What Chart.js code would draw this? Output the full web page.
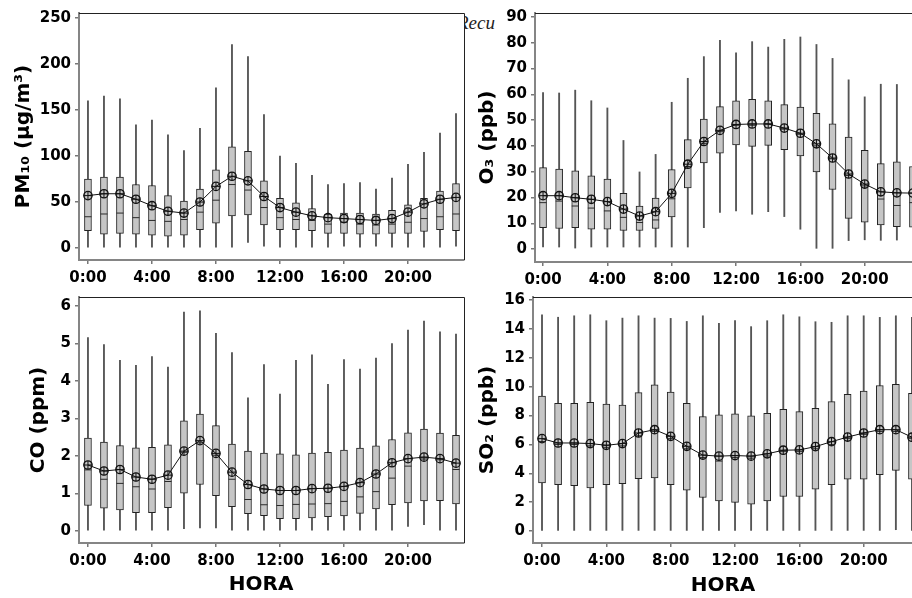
<!DOCTYPE html>
<html>
<head>
<meta charset="utf-8">
<script src="https://cdn.jsdelivr.net/npm/chart.js@4.4.0/dist/chart.umd.min.js"></script>
<style>
body{margin:0;background:#fff;width:912px;height:598px;overflow:hidden;position:relative}
.panel{position:absolute}
#recu{position:absolute;left:464px;top:10px;width:48px;height:30px;overflow:hidden}
#recu span{position:absolute;left:-7px;top:2px;font:italic 19px "Liberation Serif",serif;color:#222}
</style>
</head>
<body>
<div id="recu"><span>Recu</span></div>
<div class="panel" style="left:0;top:0"><canvas id="pm10" width="470" height="300"></canvas></div>
<div class="panel" style="left:455px;top:0"><canvas id="o3" width="480" height="300"></canvas></div>
<div class="panel" style="left:0;top:284px"><canvas id="co" width="470" height="314"></canvas></div>
<div class="panel" style="left:455px;top:284px"><canvas id="so2" width="480" height="314"></canvas></div>
<script>
const hours = [0,1,2,3,4,5,6,7,8,9,10,11,12,13,14,15,16,17,18,19,20,21,22,23]
const hourTicks = [0,4,8,12,16,20]

// PM10 (ug/m3)
const pm10Ticks = [0,50,100,150,200,250]
const pm10Lo = [1,1,1,1,1,1,1,1,1,1,6,2,1,1,1,1,2,1,2,1,1,1,1,2]
const pm10Q1 = [19,15,16,15,14,13,14,20,27,35,36,25,20,20,19,16,16,15,15,16,16,18,20,19]
const pm10Med = [34,37,38,33,30,29,31,39,52,69,63,44,33,31,30,26,28,26,25,26,28,32,34,37]
const pm10Q3 = [75,77,77,69,68,57,51,64,85,110,105,73,54,49,43,37,38,38,37,41,47,54,62,70]
const pm10Hi = [160,165,162,134,139,123,106,130,174,221,208,145,100,92,79,69,70,71,64,76,91,104,125,146]
const pm10Mean = [57,59,59,53,46,40,38,50,67,78,73,56,44,39,35,33,32,31,30,32,39,48,53,55]

// O3 (ppb)
const o3Ticks = [0,10,20,30,40,50,60,70,80,90]
const o3Lo = [0.8,0.8,0.4,0.8,0.8,0.8,0.8,0.8,0.8,0.8,8.3,14.2,14.8,13.5,14.5,12.6,7.7,0.3,0.3,3.3,3.6,3.4,3.5,3.5]
const o3Q1 = [8.3,8,8.3,7.7,7.7,7.2,7.2,8,12.5,23.7,33.4,37.2,40.4,39.8,40.2,38.5,36.1,29.9,23.1,11.9,10.4,9.4,8.7,8.5]
const o3Med = [18,18.6,16.7,15.9,14.8,12.3,10.3,11.3,19.5,32,41,45.5,48,48,48.5,46.5,44.5,40,35,28.5,24.5,19.4,16.9,18]
const o3Q3 = [31.6,31,30.3,28.4,27.1,21.6,16.7,19.8,30.8,42.4,50.4,55.2,57.5,58,57.5,56,55,52.6,48.5,43.4,38.3,33.1,33.8,32]
const o3Hi = [60.7,60.5,61.6,57.5,54.7,42.1,29.9,36.7,56.9,66.2,74.6,80.9,76.1,80.4,78.3,81.3,82.2,79.3,73.9,65.6,59,63.9,63.8,62]
const o3Mean = [20.7,20.7,19.9,19.3,18.4,15.5,12.8,14.5,21.6,32.9,41.7,46,48.3,48.5,48.5,46.9,44.9,40.8,35.3,29.1,25.2,22.2,21.8,21.7]

// CO (ppm)
const coTicks = [0,1,2,3,4,5,6]
const coLo = [0.02,0,0,0,0,0,0.06,0.08,0.08,0,0,0,0,0,0,0,0,0,0,0,0.12,0.17,0,0]
const coQ1 = [0.68,0.61,0.56,0.49,0.49,0.62,1.01,1.24,0.94,0.65,0.46,0.41,0.33,0.33,0.35,0.38,0.4,0.47,0.59,0.7,0.75,0.8,0.81,0.72]
const coMed = [1.63,1.38,1.27,1.18,1.12,1.32,2.1,2.35,2.02,1.38,0.84,0.7,0.68,0.71,0.72,0.73,0.79,0.91,1.05,1.41,1.73,1.92,1.9,1.64]
const coQ3 = [2.48,2.37,2.28,2.22,2.23,2.3,2.94,3.12,2.81,2.32,2.13,2.08,2.06,2.03,2.08,2.1,2.16,2.21,2.27,2.44,2.62,2.72,2.61,2.55]
const coHi = [5.16,4.97,4.55,4.42,4.65,4.37,5.84,5.87,5.27,4.76,3.55,4.44,3.65,4.55,4.7,3.91,4.57,4.32,4.61,5.0,5.36,5.6,5.31,5.25]
const coMean = [1.76,1.6,1.64,1.44,1.38,1.49,2.13,2.41,2.07,1.57,1.24,1.12,1.08,1.08,1.13,1.14,1.19,1.29,1.52,1.82,1.93,1.97,1.93,1.81]

// SO2 (ppb)
const so2Ticks = [0,2,4,6,8,10,12,14,16]
const so2Lo = [0,0,0,0,0,0,0,0,0,0,0,0,0,0,0,0,0,0,0,0,0,0,0.1,0]
const so2Q1 = [3.34,3.22,3.15,2.99,3.22,3.29,3.63,3.68,3.22,2.83,2.33,2.1,1.99,1.87,2.1,2.4,2.4,2.9,3.22,3.59,3.59,3.91,4.21,3.59]
const so2Med = [6.2,6.0,6.0,5.9,5.8,5.9,6.6,6.9,6.4,5.7,5.1,4.85,5.1,5.05,5.2,5.5,5.5,5.7,6.0,6.4,6.7,6.9,6.9,6.4]
const so2Q3 = [9.35,8.85,8.85,8.91,8.8,8.73,9.58,10.13,9.62,8.85,7.93,8.05,8.11,7.98,8.16,8.43,8.27,8.5,8.96,9.46,9.69,10.08,10.15,9.53]
const so2Hi = [14.97,14.8,14.9,14.97,14.56,14.74,14.9,14.74,14.72,14.51,14.9,14.38,14.56,14.15,14.56,14.97,14.83,14.49,14.45,14.9,14.9,14.79,14.9,14.8]
const so2Mean = [6.4,6.1,6.1,6.06,5.94,6.06,6.79,7.02,6.56,5.87,5.26,5.19,5.23,5.19,5.35,5.6,5.62,5.85,6.19,6.51,6.79,7.02,7.02,6.5]

const bold = size => ({family:'"DejaVu Sans", Verdana, sans-serif', weight:'bold', size:size})

// top and right edges of the plot box
const frame = {
  id:'frame',
  afterDraw(chart){
    const {ctx, chartArea:a} = chart
    ctx.save()
    ctx.strokeStyle = '#222'
    ctx.lineWidth = 1
    ctx.beginPath()
    ctx.moveTo(a.left, a.top + 0.5)
    ctx.lineTo(a.right + 0.5, a.top + 0.5)
    ctx.lineTo(a.right + 0.5, a.bottom)
    ctx.stroke()
    ctx.restore()
  }
}

function pts(vals){
  return hours.map((h,i) => ({x:h, y:vals[i]}))
}

function ranges(lo, hi){
  return hours.map((h,i) => ({x:h, y:[lo[i], hi[i]]}))
}

function boxPanel(id, s, o){
  return new Chart(document.getElementById(id), {
    type:'bar',
    data:{
      datasets:[
        {type:'bar', data:ranges(s.lo, s.hi), backgroundColor:'#555', barThickness:1.2, grouped:false, order:4},
        {type:'bar', data:ranges(s.q1, s.q3), backgroundColor:'#c6c6c6', borderColor:'#222', borderWidth:1,
          borderSkipped:false, barThickness:7, grouped:false, order:3},
        {type:'scatter', data:pts(s.med), pointStyle:'line', pointRadius:3.5, borderColor:'#2a2a2a', borderWidth:1, order:2},
        {type:'line', data:pts(s.mean), borderColor:'#111', borderWidth:1, tension:0,
          pointStyle:'circle', pointRadius:4.2, pointBackgroundColor:'rgba(0,0,0,0)',
          pointBorderColor:'#111', pointBorderWidth:1.3, order:1},
        {type:'scatter', data:pts(s.mean), pointStyle:'cross', pointRadius:4.2, borderColor:'#111', borderWidth:1, order:0}
      ]
    },
    options:{
      responsive:false,
      animation:false,
      events:[],
      layout:{padding:{left:0, top:o.top, right:o.right, bottom:0}},
      plugins:{legend:{display:false}, tooltip:{enabled:false}},
      scales:{
        x:{
          type:'linear', min:o.xmin, max:o.xmax, offset:false,
          afterBuildTicks: sc => { sc.ticks = hourTicks.map(v => ({value:v})) },
          afterFit: sc => { sc.height = o.xh },
          ticks:{callback: v => v + ':00', font:bold(15), color:'#000', padding:5, maxRotation:0, autoSkip:false},
          grid:{offset:false, drawOnChartArea:false, tickLength:4, color:'#777', lineWidth:1.5},
          border:{color:'#858585', width:2},
          title:{display:!!o.hora, text:o.hora, font:bold(20), color:'#000', padding:{top:0, bottom:o.hpad || 0}}
        },
        y:{
          min:o.ymin, max:o.ymax,
          afterBuildTicks: sc => { sc.ticks = o.ticks.map(v => ({value:v})) },
          afterFit: sc => { sc.width = o.yw },
          ticks:{font:bold(15), color:'#000', padding:4},
          grid:{drawOnChartArea:false, tickLength:4, color:'#777', lineWidth:1.5},
          border:{color:'#858585', width:2},
          title:{display:true, text:o.title, font:bold(20), color:'#000', padding:{top:o.tpad, bottom:0}}
        }
      }
    },
    plugins:[frame]
  })
}

boxPanel('pm10', {lo:pm10Lo, q1:pm10Q1, med:pm10Med, q3:pm10Q3, hi:pm10Hi, mean:pm10Mean},
  {ticks:pm10Ticks, ymin:-13, ymax:255.4, xmin:-0.56, xmax:23.5, top:12, right:6, yw:79, xh:40, tpad:12,
   title:'PM\u2081\u2080 (\u00b5g/m\u00b3)'})

boxPanel('o3', {lo:o3Lo, q1:o3Q1, med:o3Med, q3:o3Q3, hi:o3Hi, mean:o3Mean},
  {ticks:o3Ticks, ymin:-5, ymax:91.5, xmin:-0.5, xmax:23.5, top:12, right:14, yw:80, xh:38, tpad:21,
   title:'O\u2083 (ppb)'})

boxPanel('co', {lo:coLo, q1:coQ1, med:coMed, q3:coQ3, hi:coHi, mean:coMean},
  {ticks:coTicks, ymin:-0.32, ymax:6.24, xmin:-0.56, xmax:23.5, top:10, right:6, yw:79, xh:55, tpad:27,
   title:'CO (ppm)', hora:'HORA   ', hpad:1})

boxPanel('so2', {lo:so2Lo, q1:so2Q1, med:so2Med, q3:so2Q3, hi:so2Hi, mean:so2Mean},
  {ticks:so2Ticks, ymin:-0.82, ymax:16.2, xmin:-0.56, xmax:23.5, top:10, right:15, yw:78, xh:55, tpad:21,
   title:'SO\u2082 (ppb)', hora:'HORA ', hpad:0})
</script>
</body>
</html>
